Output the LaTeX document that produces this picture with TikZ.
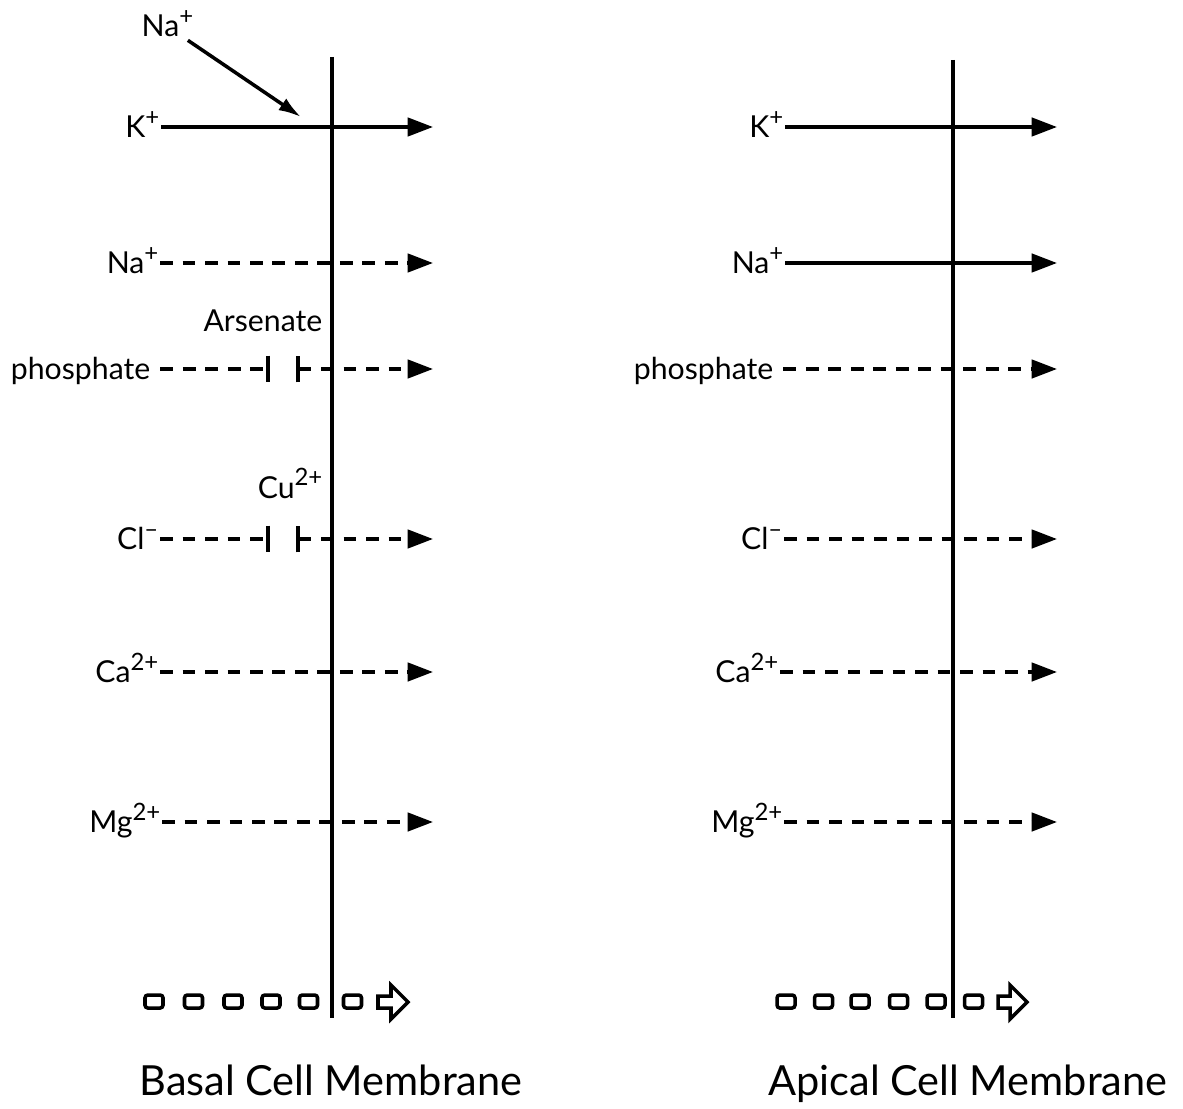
\documentclass[tikz,border=0pt]{standalone}
\usepackage{fontspec}
\setmainfont{Lato}
\usetikzlibrary{arrows.meta,positioning}
\newcommand\chg[1]{\raisebox{0.8ex}{\fontsize{17}{17}\selectfont #1}}

\begin{document}
\begin{tikzpicture}[x=0.025cm,y=-0.025cm,
    every node/.style={font=\fontsize{21.5}{25}\selectfont, inner sep=1pt},
    ion/.style={text height=15pt, text depth=0pt},
    membrane/.style={line width=2.5pt},
    flux/.style={line width=2.5pt, -{Triangle[length=18pt,width=13pt]}},
    passive/.style={flux, dash pattern=on 9pt off 7pt},
    blocked/.style={line width=2.5pt, dash pattern=on 9pt off 7pt, -{Bar[width=19pt]}},
    resumed/.style={line width=2.5pt, dash pattern=on 9pt off 7pt, {Bar[width=19pt]}-{Triangle[length=18pt,width=13pt]}},
    title/.style={font=\fontsize{29.5}{34}\selectfont}
]
\useasboundingbox (0,0) rectangle (1183,1109);

% ============ BASAL CELL MEMBRANE ============
\coordinate (bTop) at (332,57);
\coordinate (bBot) at (332,1018);
\draw[membrane] (bTop) -- (bBot);

% Na+ entering
\node[anchor=base west] (bNaIn) at (140,37) {Na\chg{+}};
\coordinate (bNaTip) at (301,117);
\draw[line width=2.5pt, -{Latex[length=16pt,width=10pt]}] ([xshift=-5pt,yshift=-1pt]bNaIn.south east) -- (bNaTip);

% ion rows
\node[ion, anchor=east] (bK) at (161,127) {K\chg{+}};
\coordinate (bKe) at (433,127);
\draw[flux] (bK) -- (bKe);

\node[ion, anchor=east] (bNa) at (160,263) {Na\chg{+}};
\coordinate (bNae) at (433,263);
\draw[passive] (bNa) -- (bNae);

\node[anchor=base east] (bAs) at (324,331) {Arsenate};
\node[ion, anchor=east] (bP) at (152,369) {phosphate};
\coordinate (bPl) at (270,369);
\coordinate (bPr) at (296,369);
\coordinate (bPe) at (433,369);
\draw[blocked, shorten <=6pt] (bP) -- (bPl);
\draw[resumed] (bPr) -- (bPe);

\node[anchor=base east] (bCu) at (324,498) {Cu\chg{2+}};
\node[ion, anchor=east] (bCl) at (160,539) {Cl\chg{--}};
\coordinate (bCll) at (270,539);
\coordinate (bClr) at (296,539);
\coordinate (bCle) at (433,539);
\draw[blocked] (bCl) -- (bCll);
\draw[resumed] (bClr) -- (bCle);

\node[ion, anchor=east] (bCa) at (160,672) {Ca\chg{2+}};
\coordinate (bCae) at (433,672);
\draw[passive] (bCa) -- (bCae);

\node[ion, anchor=east] (bMg) at (162,822) {Mg\chg{2+}};
\coordinate (bMge) at (433,822);
\draw[passive] (bMg) -- (bMge);

% flow direction
\foreach \x in {154,193.5,233,271,308.5,352.5}
    \draw[line width=2.5pt, rounded corners=2pt] (\x-9,995) rectangle (\x+9,1008);
\draw[line width=2.5pt, line join=miter] (378,996) -- (391,996) -- (391,985) -- (408,1002) -- (391,1019) -- (391,1008) -- (378,1008) -- cycle;

\node[title, anchor=base] (bTitle) at (331,1095) {Basal Cell Membrane};

% ============ APICAL CELL MEMBRANE ============
\coordinate (aTop) at (953,60);
\coordinate (aBot) at (953,1018);
\draw[membrane] (aTop) -- (aBot);

\node[ion, anchor=east] (aK) at (785,127) {K\chg{+}};
\coordinate (aKe) at (1057,127);
\draw[flux] (aK) -- (aKe);

\node[ion, anchor=east] (aNa) at (785,263) {Na\chg{+}};
\coordinate (aNae) at (1057,263);
\draw[flux] (aNa) -- (aNae);

\node[ion, anchor=east] (aP) at (775,369) {phosphate};
\coordinate (aPe) at (1057,369);
\draw[passive, shorten <=6pt] (aP) -- (aPe);

\node[ion, anchor=east] (aCl) at (784,539) {Cl\chg{--}};
\coordinate (aCle) at (1057,539);
\draw[passive] (aCl) -- (aCle);

\node[ion, anchor=east] (aCa) at (780,672) {Ca\chg{2+}};
\coordinate (aCae) at (1057,672);
\draw[passive] (aCa) -- (aCae);

\node[ion, anchor=east] (aMg) at (784,822) {Mg\chg{2+}};
\coordinate (aMge) at (1057,822);
\draw[passive] (aMg) -- (aMge);

% flow direction
\foreach \x in {786,823.5,860,898.5,936,973.5}
    \draw[line width=2.5pt, rounded corners=2pt] (\x-9,995) rectangle (\x+9,1008);
\draw[line width=2.5pt, line join=miter] (998,996) -- (1010,996) -- (1010,985) -- (1027,1002) -- (1010,1019) -- (1010,1008) -- (998,1008) -- cycle;

\node[title, anchor=base] (aTitle) at (968,1095) {Apical Cell Membrane};

\end{tikzpicture}
\end{document}
